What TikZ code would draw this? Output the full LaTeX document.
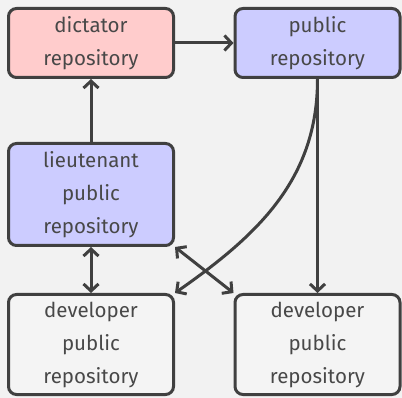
\documentclass[tikz,border=0pt]{standalone}
\usepackage{fontspec}
\setmainfont{Fira Sans}
\usetikzlibrary{arrows.meta}
\definecolor{bg}{RGB}{242,242,242}
\definecolor{ln}{RGB}{64,64,64}
\definecolor{tx}{RGB}{72,72,72}
\definecolor{red1}{RGB}{255,204,204}
\definecolor{blue1}{RGB}{204,204,255}
\definecolor{dev}{RGB}{244,244,244}
\begin{document}
\begin{tikzpicture}[x=1pt,y=-1pt,
  repo/.style={draw=ln,line width=3pt,rounded corners=8pt,minimum width=165pt,
    align=center,text=tx,font=\fontsize{20.5}{33}\selectfont,inner sep=0pt},
  conn/.style={draw=ln,line width=3pt,-{Straight Barb[length=7pt,width=15pt]}},
  bconn/.style={draw=ln,line width=3pt,{Straight Barb[length=7pt,width=15pt]}-{Straight Barb[length=7pt,width=15pt]}}]
\fill[bg] (0,0) rectangle (402,398);
\useasboundingbox (0,0) rectangle (402,398);
\node[repo,fill=red1,minimum height=69pt] (dict) at (91,43) {dictator\\repository};
\node[repo,fill=blue1,minimum height=69pt] (pub) at (317.5,43) {public\\repository};
\node[repo,fill=blue1,minimum height=102pt] (lt) at (91,194.5) {lieutenant\\public\\repository};
\node[repo,fill=dev,minimum height=100pt] (d1) at (91,344.5) {developer\\public\\repository};
\node[repo,fill=dev,minimum height=100pt] (d2) at (317.5,344.5) {developer\\public\\repository};
\draw[conn] (dict) -- (pub);
\draw[conn] (lt) -- (dict);
\draw[conn] (pub) -- (d2);
\draw[conn] (pub.south) to[out=-90,in=35] (d1.north east);
\draw[bconn] (lt) -- (d1);
\draw[bconn] (lt.south east) -- (d2.north west);
\end{tikzpicture}
\end{document}
